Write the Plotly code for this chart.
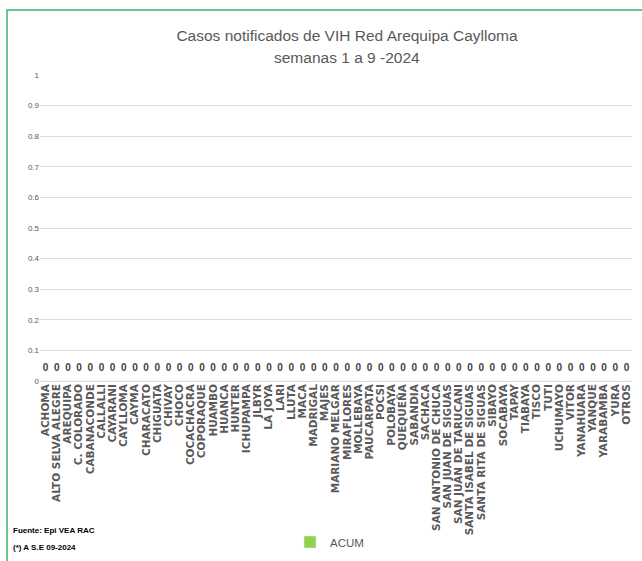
import plotly.graph_objects as go

categories = ["ACHOMA", "ALTO SELVA ALEGRE", "AREQUIPA", "C. COLORADO", "CABANACONDE",
              "CALLALLI", "CAYARANI", "CAYLLOMA", "CAYMA", "CHARACATO", "CHIGUATA",
              "CHIVAY", "CHOCO", "COCACHACRA", "COPORAQUE", "HUAMBO", "HUANCA", "HUNTER",
              "ICHUPAMPA", "JLBYR", "LA JOYA", "LARI", "LLUTA", "MACA", "MADRIGAL", "MAJES",
              "MARIANO MELGAR", "MIRAFLORES", "MOLLEBAYA", "PAUCARPATA", "POCSI", "POLOBAYA",
              "QUEQUEÑA", "SABANDIA", "SACHACA", "SAN ANTONIO DE CHUCA", "SAN JUAN DE SIGUAS",
              "SAN JUAN DE TARUCANI", "SANTA ISABEL DE SIGUAS", "SANTA RITA DE SIGUAS",
              "SIBAYO", "SOCABAYA", "TAPAY", "TIABAYA", "TISCO", "TUTI", "UCHUMAYO", "VITOR",
              "YANAHUARA", "YANQUE", "YARABAMBA", "YURA", "OTROS"]
acum = [0] * len(categories)
y_ticks = [0, 0.1, 0.2, 0.3, 0.4, 0.5, 0.6, 0.7, 0.8, 0.9, 1]
y_tick_labels = ["0", "0.1", "0.2", "0.3", "0.4", "0.5", "0.6", "0.7", "0.8", "0.9", "1"]

SANS = "Liberation Sans, Arial, sans-serif"
W, H = 642, 561
ML, MR, MT, MB = 40, 10, 75, 180
PW, PH = W - ML - MR, H - MT - MB


def px_x(p):
    return (p - ML) / PW


def px_y(p):
    return (H - MB - p) / PH


fig = go.Figure()
fig.add_trace(go.Bar(
    x=categories, y=acum, name="ACUM",
    marker_color="#92D050",
    showlegend=True,
))
fig.add_trace(go.Scatter(
    x=categories, y=acum, mode="markers+text",
    marker=dict(size=10, color="rgba(0,0,0,0)"),
    text=[str(v) for v in acum], textposition="top center",
    textfont=dict(family=SANS, size=10, color="#404040", weight="bold"),
    showlegend=False, cliponaxis=False, hoverinfo="skip",
))

fig.update_layout(
    width=W, height=H,
    margin=dict(l=ML, r=MR, t=MT, b=MB, autoexpand=False),
    paper_bgcolor="white", plot_bgcolor="white",
    title=dict(
        text="Casos notificados de VIH Red Arequipa Caylloma",
        xref="container", yref="container",
        x=347 / W, xanchor="center", y=1 - 35.5 / H, yanchor="middle",
        font=dict(family=SANS, size=15.5, color="#595959"),
    ),
    bargap=0.5,
    showlegend=True,
    legend=dict(
        orientation="h", xref="container", yref="container",
        x=290 / W, xanchor="left", y=1 - 542 / H, yanchor="middle",
        font=dict(family=SANS, size=11.5, color="#595959"),
        itemwidth=30, bgcolor="rgba(0,0,0,0)",
    ),
    xaxis=dict(
        type="category", tickangle=-90, automargin=False,
        range=[-0.5, len(categories) - 0.5],
        tickmode="array", tickvals=categories, ticktext=categories,
        tickfont=dict(family="DejaVu Sans, sans-serif", size=10.5, color="#595959", weight="bold"),
        showgrid=False, showline=False, ticks="",
    ),
    yaxis=dict(
        range=[0, 1], tickvals=y_ticks, ticktext=y_tick_labels,
        automargin=False,
        tickfont=dict(family=SANS, size=8, color="#595959"),
        showgrid=True, gridcolor="#DDDDDD", gridwidth=1,
        zeroline=True, zerolinecolor="#DDDDDD", zerolinewidth=1,
        showline=False, ticks="",
    ),
    shapes=[dict(
        type="rect", xref="paper", yref="paper",
        x0=px_x(7), x1=px_x(W + 10), y0=px_y(H + 20), y1=px_y(10),
        line=dict(color="#3CB371", width=1.5), fillcolor="rgba(0,0,0,0)",
    )],
    annotations=[
        dict(text="semanas 1 a 9 -2024", xref="paper", yref="paper",
             x=px_x(347), y=px_y(58), xanchor="center", yanchor="middle",
             showarrow=False, font=dict(family=SANS, size=15.5, color="#595959")),
        dict(text="Fuente: Epi VEA RAC", xref="paper", yref="paper",
             x=px_x(11), y=px_y(530), xanchor="left", yanchor="middle",
             showarrow=False, font=dict(family=SANS, size=8, color="#000000", weight="bold")),
        dict(text="(*) A S.E 09-2024", xref="paper", yref="paper",
             x=px_x(11), y=px_y(547), xanchor="left", yanchor="middle",
             showarrow=False, font=dict(family=SANS, size=8, color="#000000", weight="bold")),
    ],
)

fig.write_html("out.html", post_script="document.body.style.margin='0';",
               config={"displayModeBar": False})
